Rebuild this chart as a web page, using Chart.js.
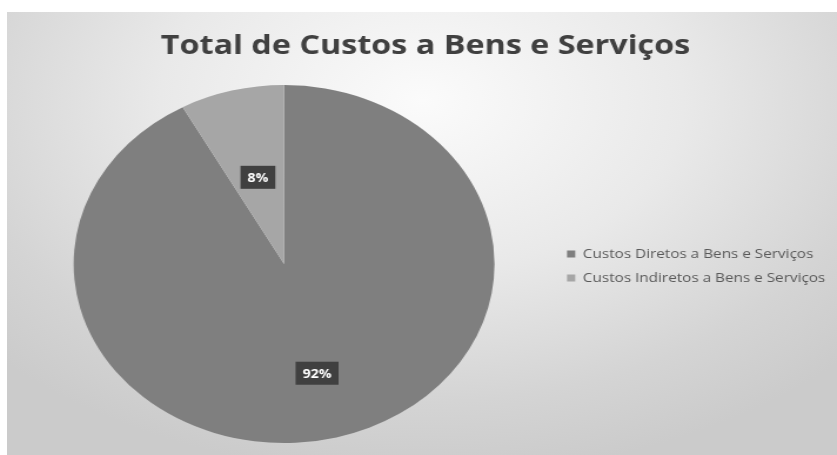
<!DOCTYPE html>
<html>
<head>
<meta charset="utf-8">
<script src="https://cdn.jsdelivr.net/npm/chart.js@4/dist/chart.umd.min.js"></script>
<style>
  html, body { margin: 0; padding: 0; background: #fff; }
  body { width: 837px; height: 455px; position: relative; overflow: hidden; }
  #frame {
    position: absolute; left: 7px; top: 12px; width: 830px; height: 443px;
    background: radial-gradient(ellipse 70% 85% at 50% 20%, #fbfbfb 0%, #e9e9e9 45%, #d4d4d4 80%, #cbcbcb 100%);
    overflow: hidden;
  }
  /* the reference picture is stretched sideways, so the chart is too */
  #stretch {
    width: 706px; height: 443px;
    transform: scaleX(1.1756); transform-origin: 0 0;
  }
</style>
</head>
<body>
<div id="frame"><div id="stretch"><canvas id="pieChart"></canvas></div></div>
<script>
/* ── Data ── */
const categories = ['Custos Diretos a Bens e Serviços', 'Custos Indiretos a Bens e Serviços'];
const shares     = [92, 8];
const sliceColors = ['#7f7f7f', '#a6a6a6'];
const labelRadius = [0.63, 0.5];   // where each % tag sits, as a share of the radius

/* ── Percent tags in dark boxes ── */
const pctTags = {
  id: 'pctTags',
  afterDatasetsDraw(chart) {
    const ctx = chart.ctx;
    const meta = chart.getDatasetMeta(0);
    const total = shares.reduce((a, b) => a + b, 0);
    ctx.save();
    ctx.font = 'bold 12px "Open Sans", sans-serif';
    ctx.textAlign = 'center';
    ctx.textBaseline = 'middle';
    meta.data.forEach((arc, i) => {
      const p = arc.getProps(['x', 'y', 'startAngle', 'endAngle', 'outerRadius'], true);
      const mid = (p.startAngle + p.endAngle) / 2;
      const r = p.outerRadius * labelRadius[i];
      const x = p.x + Math.cos(mid) * r;
      const y = p.y + Math.sin(mid) * r;
      const txt = Math.round(shares[i] / total * 100) + '%';
      const w = ctx.measureText(txt).width + 12;
      const h = 23;
      ctx.fillStyle = '#404040';
      ctx.fillRect(x - w / 2, y - h / 2, w, h);
      ctx.fillStyle = '#ffffff';
      ctx.fillText(txt, x, y + 1);
    });
    ctx.restore();
  },
};

new Chart(document.getElementById('pieChart'), {
  type: 'pie',
  data: {
    labels: categories,
    datasets: [{
      data: shares,
      backgroundColor: sliceColors,
      borderWidth: 0,
    }],
  },
  options: {
    responsive: true, maintainAspectRatio: false, animation: false,
    layout: { padding: { left: 6, right: 0, bottom: 12, top: 0 } },
    plugins: {
      title: {
        display: true,
        text: 'Total de Custos a Bens e Serviços',
        color: '#404040',
        font: { family: 'Open Sans', size: 27.5, weight: 'bold', lineHeight: 1.2 },
        padding: { top: 18, bottom: 22 },
      },
      legend: {
        position: 'right',
        /* empty legend title only pushes the items down to the pie's middle */
        title: { display: true, text: '', font: { size: 1 }, padding: { top: 76, bottom: 0 } },
        labels: {
          boxWidth: 7, boxHeight: 7, padding: 11,
          color: '#595959',
          font: { family: 'Open Sans', size: 13 },
        },
      },
      tooltip: { enabled: false },
    },
  },
  plugins: [pctTags],
});
</script>
</body>
</html>
